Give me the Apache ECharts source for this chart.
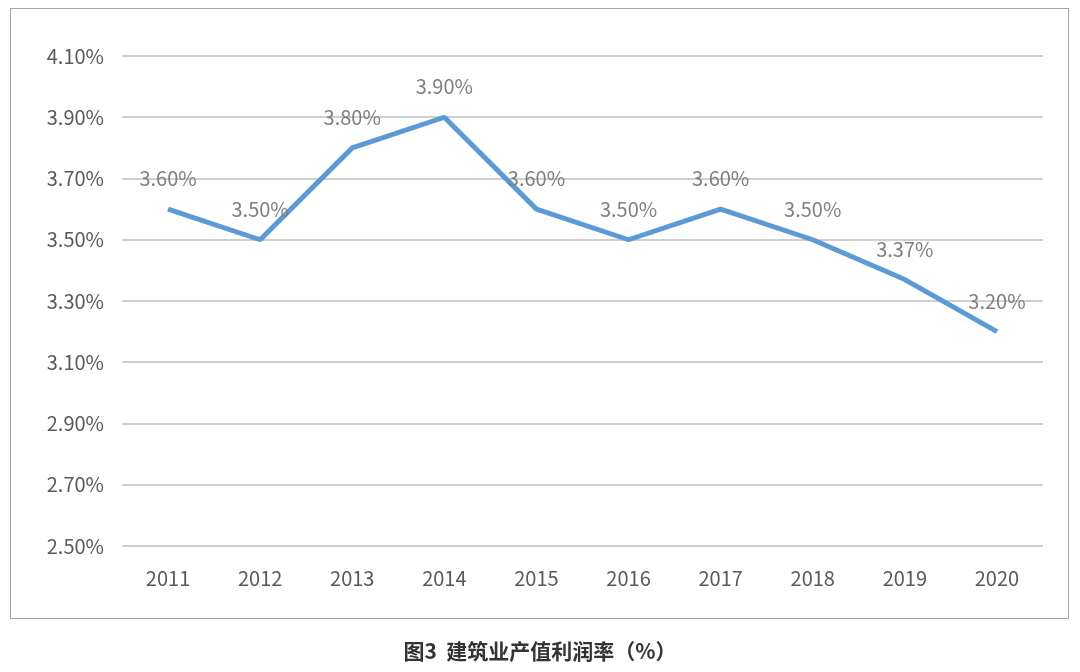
<!DOCTYPE html>
<html lang="zh">
<head>
    <meta charset="UTF-8">
    <title>建筑业产值利润率</title>
    <script src="https://cdn.jsdelivr.net/npm/echarts@6/dist/echarts.min.js"></script>
    <style>
        body { margin: 0; background: #fff; }
        #box { position: absolute; left: 10px; top: 8px; width: 1057px; height: 609px; border: 1px solid #a6a6a6; }
        #charts1 { position: absolute; left: 0; top: 0; width: 1080px; height: 672px; }
    </style>
</head>
<body>
    <div id="box"></div>
    <div id="charts1"></div>
    <script type="text/javascript">
        var years = ['2011', '2012', '2013', '2014', '2015', '2016', '2017', '2018', '2019', '2020'];
        var rates = [3.60, 3.50, 3.80, 3.90, 3.60, 3.50, 3.60, 3.50, 3.37, 3.20];
        var titleText = '图3  建筑业产值利润率（%）';

        var myChart = echarts.init(document.getElementById('charts1'));
        var font = '"Noto Sans CJK SC", "Noto Sans", sans-serif';
        option = {
            animation: false,
            title: {
                text: titleText,
                left: 'center',
                top: 636,
                textStyle: { fontSize: 21, fontWeight: 'bold', color: '#333', fontFamily: font }
            },
            grid: { left: 122, right: 37, top: 56, bottom: 126 },
            xAxis: {
                type: 'category',
                data: years,
                axisLine: { show: false },
                axisTick: { show: false },
                axisLabel: { color: '#595959', fontSize: 20, margin: 22, fontFamily: font }
            },
            yAxis: {
                type: 'value',
                min: 2.5,
                max: 4.1,
                interval: 0.2,
                axisLabel: {
                    color: '#595959', fontSize: 20, margin: 18, fontFamily: font,
                    formatter: function (v) { return v.toFixed(2) + '%'; }
                },
                splitLine: { lineStyle: { color: '#bfbfbf', width: 1.5 } }
            },
            series: [{
                type: 'line',
                data: rates,
                symbol: 'circle',
                symbolSize: 1,
                showSymbol: true,
                itemStyle: { color: '#5b9bd5' },
                lineStyle: { color: '#5b9bd5', width: 5 },
                label: {
                    show: true,
                    position: 'top',
                    distance: 20,
                    color: '#7f7f7f',
                    fontSize: 20,
                    fontFamily: font,
                    formatter: function (p) { return p.value.toFixed(2) + '%'; }
                }
            }]
        };
        myChart.setOption(option);
    </script>
</body>
</html>
